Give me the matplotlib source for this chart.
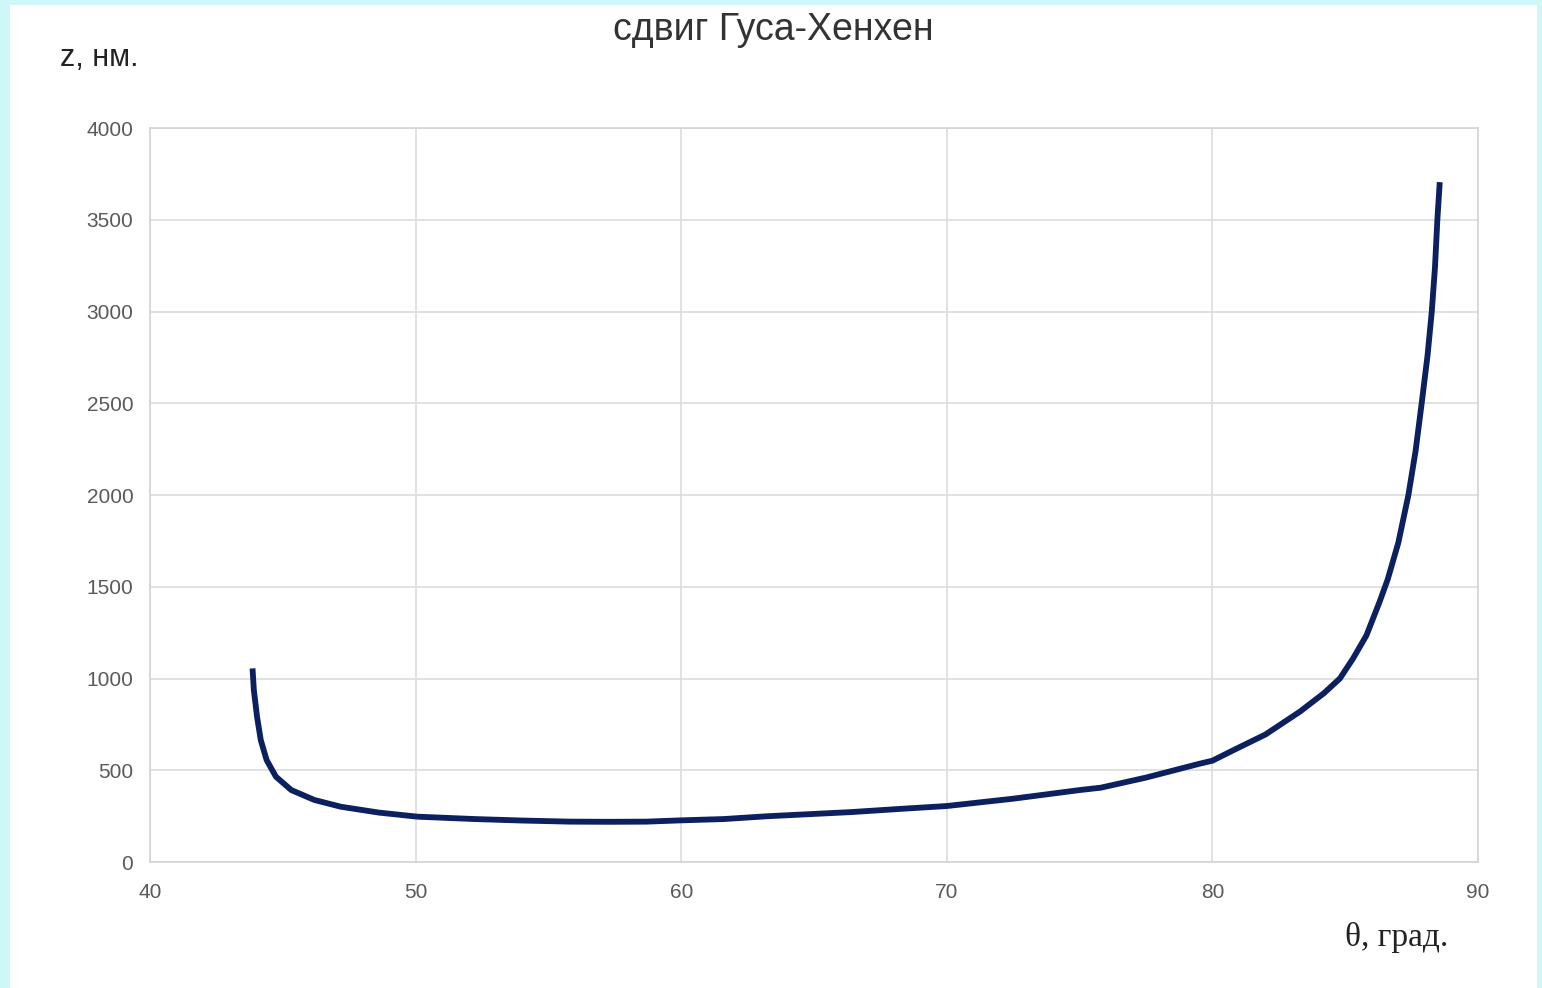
import numpy as np
import matplotlib.pyplot as plt
from matplotlib.patches import Rectangle

# Goos-Haenchen shift vs incidence angle
theta = [43.86, 43.91, 44.03, 44.17, 44.39, 44.74, 45.32, 46.19, 47.19, 48.63,
         50.07, 52.23, 54.0, 55.8, 57.3, 58.7, 60.0, 61.6, 63.2, 65.0,
         66.4, 68.2, 70.0, 72.5, 75.0, 75.8, 77.5, 79.5, 80.0, 80.8,
         82.0, 83.3, 84.2, 84.8, 85.3, 85.8, 86.3, 86.6, 87.0, 87.38,
         87.65, 87.88, 88.1, 88.26, 88.38, 88.47, 88.56]
z_nm = [1055, 937, 792, 665, 556, 465, 392, 338, 301, 269,
        247, 234, 226, 220, 219, 220, 227, 234, 249, 262,
        272, 289, 305, 345, 392, 405, 460, 535, 552, 610,
        695, 820, 920, 1000, 1110, 1235, 1420, 1540, 1740, 2000,
        2240, 2500, 2760, 3000, 3240, 3500, 3705]

x_ticks = [40, 50, 60, 70, 80, 90]
y_ticks = [0, 500, 1000, 1500, 2000, 2500, 3000, 3500, 4000]

W, H = 1542, 988
fig = plt.figure(figsize=(W / 100, H / 100), dpi=100)
fig.patch.set_facecolor('#cdf7f8')
# white card inside the cyan frame
fig.add_artist(Rectangle((10 / W, 0), 1527 / W, 1 - 5 / H,
                         transform=fig.transFigure, facecolor='white',
                         edgecolor='none', zorder=-5))

ax = fig.add_axes([150 / W, 1 - 862 / H, 1328 / W, 734 / H])
ax.set_zorder(2)
ax.set_facecolor('white')
ax.plot(theta, z_nm, color='#0c1f5e', lw=4.2, solid_capstyle='butt',
        solid_joinstyle='round', zorder=3)

ax.set_xlim(40, 90)
ax.set_ylim(0, 4000)
ax.set_xticks(x_ticks)
ax.set_yticks(y_ticks)
ax.grid(True, color='#dcdcdc', lw=1.2)
ax.set_axisbelow(True)
for s in ax.spines.values():
    s.set_color('#d4d4d4')
    s.set_linewidth(1.2)
ax.tick_params(length=0, labelsize=15, labelcolor='#5a5a5a')
ax.tick_params(axis='x', pad=15)
ax.tick_params(axis='y', pad=12)
for lab in ax.get_xticklabels() + ax.get_yticklabels():
    lab.set_family('Liberation Sans')

fig.text(773 / W, 1 - 30 / H, 'сдвиг Гуса-Хенхен', ha='center', va='center',
         fontsize=27, color='#333333', family='Liberation Sans', zorder=5)
fig.text(60 / W, 1 - 58 / H, 'z, нм.', ha='left', va='center',
         fontsize=22, color='#222222', family='Liberation Sans', zorder=5)
fig.text(1345 / W, 1 - 937 / H, 'θ, град.', ha='left', va='center',
         fontsize=24, color='#222222', family='Liberation Serif', zorder=5)

fig.savefig('out.png', dpi=100, facecolor=fig.get_facecolor())
